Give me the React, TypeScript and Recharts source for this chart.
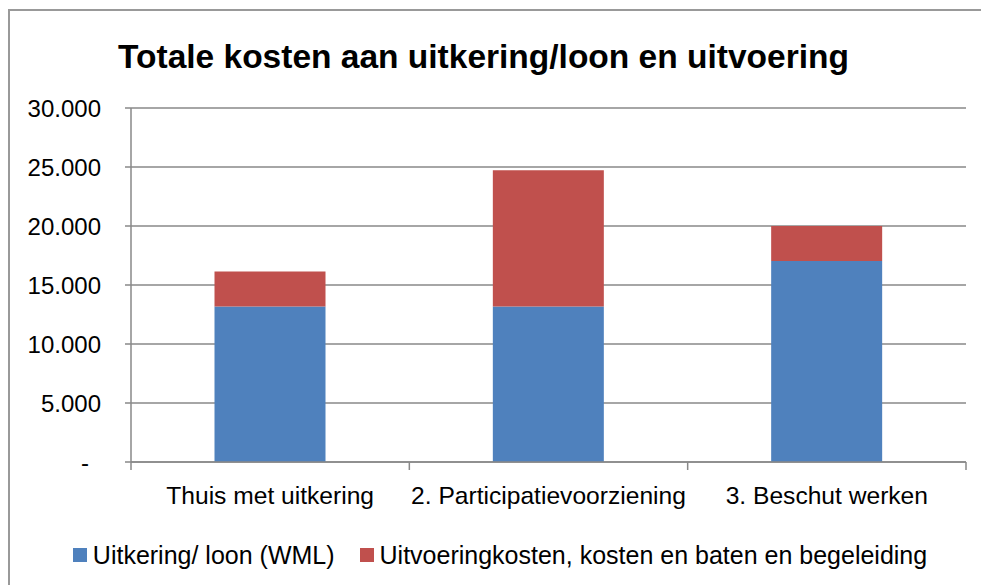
import React from "react";
import { BarChart, Bar, XAxis, YAxis, CartesianGrid, Legend } from "recharts";

const categories = ["Thuis met uitkering", "2. Participatievoorziening", "3. Beschut werken"];
const uitkering = [13170, 13170, 17030];
const uitvoering = [2970, 11550, 2970];
const yTicks = [0, 5000, 10000, 15000, 20000, 25000, 30000];

const seriesNames = ["Uitkering/ loon (WML)", "Uitvoeringkosten, kosten en baten en begeleiding"];
const colors = ["#4F81BD", "#C0504D"];

const data = categories.map((name, i) => ({
    name,
    uitkering: uitkering[i],
    uitvoering: uitvoering[i],
}));

const FONT = "'Liberation Sans', Arial, sans-serif";
const W = 969;
const H = 574;
const M = { top: 97, right: 13, left: 0, bottom: 33 };
const Y_W = 121;
const GRID = "#898989";

const fmt = (v: number) => (v === 0 ? "-" : v.toLocaleString("de-DE"));

const YTick = (props: any) => {
    const { x, y, payload } = props;
    const v = payload.value as number;
    return (
        <text x={v === 0 ? x - 12 : x} y={y} textAnchor="end" dominantBaseline="central"
            fontFamily={FONT} fontSize={24} fill="#000">
            {fmt(v)}
        </text>
    );
};

const XTick = (props: any) => {
    const { x, y, payload, index } = props;
    const bw = (W - Y_W - M.right) / categories.length;
    const axisY = y - 8;
    return (
        <g>
            <line x1={x - bw / 2} x2={x - bw / 2} y1={axisY} y2={axisY + 8} stroke={GRID} strokeWidth={1.5} />
            {index === categories.length - 1 && (
                <line x1={x + bw / 2} x2={x + bw / 2} y1={axisY} y2={axisY + 8} stroke={GRID} strokeWidth={1.5} />
            )}
            <text x={x} y={axisY + 33} textAnchor="middle" dominantBaseline="central"
                fontFamily={FONT} fontSize={24.6} fill="#000">
                {payload.value}
            </text>
        </g>
    );
};

const LegendContent = () => (
    <div style={{ height: 30, display: "flex", justifyContent: "center", alignItems: "center",
        paddingLeft: 24, fontFamily: FONT, fontSize: 25, color: "#000", whiteSpace: "nowrap" }}>
        {seriesNames.map((n, i) => (
            <span key={n} style={{ display: "flex", alignItems: "center", marginRight: i === 0 ? 25 : 0 }}>
                <span style={{ width: 14, height: 14, background: colors[i], marginRight: 6, display: "inline-block" }} />
                {n}
            </span>
        ))}
    </div>
);

export default function App() {
    return (
        <div style={{ position: "fixed", left: 8, top: 9, width: 985, height: 590, boxSizing: "border-box",
            borderTop: "2px solid #999", borderLeft: "2px solid #999", background: "#fff" }}>
            <style>{`html,body{overflow:hidden;}`}</style>
            <div style={{ position: "absolute", left: 0, width: W - 22, top: 26, textAlign: "center",
                fontFamily: FONT, fontWeight: "bold", fontSize: 33.5, color: "#000", lineHeight: "40px" }}>
                Totale kosten aan uitkering/loon en uitvoering
            </div>
            <BarChart width={W} height={H} data={data} margin={M} barCategoryGap="30%">
                <CartesianGrid horizontal vertical={false} stroke={GRID} strokeWidth={1.5} />
                <XAxis dataKey="name" height={60} interval={0} tickLine={false}
                    axisLine={{ stroke: GRID, strokeWidth: 1.5 }} tick={<XTick />} />
                <YAxis width={Y_W} domain={[0, 30000]} ticks={yTicks} interval={0} tickSize={6} tickMargin={24}
                    tickLine={{ stroke: GRID, strokeWidth: 1.5 }} axisLine={{ stroke: GRID, strokeWidth: 1.5 }}
                    tick={<YTick />} />
                <Legend verticalAlign="bottom" content={<LegendContent />} wrapperStyle={{ bottom: 15, height: 30 }} />
                <Bar dataKey="uitkering" name={seriesNames[0]} stackId="a" fill={colors[0]} isAnimationActive={false} />
                <Bar dataKey="uitvoering" name={seriesNames[1]} stackId="a" fill={colors[1]} isAnimationActive={false} />
            </BarChart>
        </div>
    );
}
